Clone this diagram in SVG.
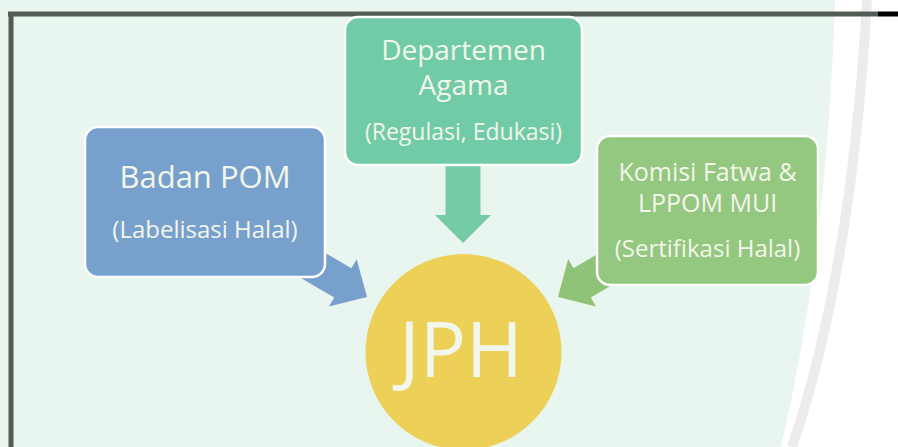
<svg xmlns="http://www.w3.org/2000/svg" width="898" height="447" viewBox="0 0 898 447">
<style>
.box{stroke:#ffffff;stroke-width:2.5}
.t{font-family:"Open Sans","Noto Sans",sans-serif;fill:#f3f6ea;text-anchor:middle}
</style>
<rect x="0" y="0" width="898" height="447" fill="#ffffff"/>
<path d="M0,0 L835,0 Q827,250 781,447 L0,447 Z" fill="#e9f5ef"/>
<path d="M867,0 Q852,270 792,447" fill="none" stroke="#ececec" stroke-width="10"/>
<g id="frame">
<line x1="8" y1="14" x2="878" y2="14" stroke="#525c55" stroke-width="5"/>
<line x1="878" y1="14" x2="898" y2="14" stroke="#000000" stroke-width="5"/>
<line x1="11" y1="12" x2="11" y2="447" stroke="#525c55" stroke-width="5"/>
</g>
<g id="connectors">
<polygon transform="translate(367,297) rotate(30.3)" points="-95,-17 -28,-17 -28,-27.5 0,0 -28,27.5 -28,17 -95,17" fill="#78a0cd"/>
<polygon transform="translate(463,243) rotate(90)" points="-85,-17.5 -28,-17.5 -28,-28 0,0 -28,28 -28,17.5 -85,17.5" fill="#74cba6"/>
<polygon transform="translate(558,297) rotate(149.5)" points="-95,-17 -28,-17 -28,-27.5 0,0 -28,27.5 -28,17 -95,17" fill="#8fc478"/>
</g>
<g id="badan-pom">
<rect class="box" x="85" y="127" width="240" height="150" rx="13" fill="#78a0cd"/>
<text class="t" x="205" y="188" font-size="31">Badan POM</text>
<text class="t" x="205" y="238" font-size="24">(Labelisasi Halal)</text>
</g>
<g id="departemen-agama">
<rect class="box" x="345" y="17" width="237" height="148" rx="13" fill="#70cba6"/>
<text class="t" x="463.5" y="60" font-size="28">Departemen</text>
<text class="t" x="463.5" y="95" font-size="28">Agama</text>
<text class="t" x="463.5" y="140" font-size="23">(Regulasi, Edukasi)</text>
</g>
<g id="komisi-fatwa">
<rect class="box" x="597" y="136" width="221" height="149" rx="13" fill="#94c780"/>
<text class="t" x="707.5" y="181" font-size="25">Komisi Fatwa &amp;</text>
<text class="t" x="707.5" y="212" font-size="25">LPPOM MUI</text>
<text class="t" x="707.5" y="257" font-size="24">(Sertifikasi Halal)</text>
</g>
<g id="jph">
<circle cx="463.5" cy="352" r="98" fill="#ecd058"/>
<text class="t" x="461" y="377" font-size="77">JPH</text>
</g>
</svg>
